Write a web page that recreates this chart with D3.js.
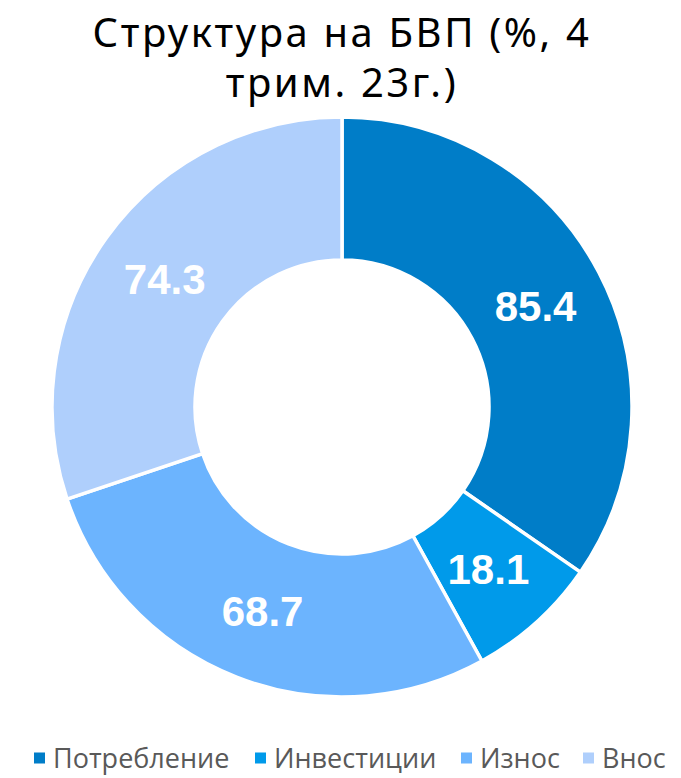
<!DOCTYPE html>
<html><head><meta charset="utf-8">
<script src="https://cdn.jsdelivr.net/npm/d3@7"></script>
<style>body{margin:0;background:#fff;} svg{display:block;}</style>
</head><body>
<script>
const categories = ["Потребление", "Инвестиции", "Износ", "Внос"];
const values = [85.4, 18.1, 68.7, 74.3];
const colors = ["#007DC8", "#009AEA", "#6CB4FE", "#AFCFFC"];
const titleLines = ["Структура на БВП (%, 4", "трим. 23г.)"];

const W = 681, H = 778;
const svg = d3.select("body").append("svg").attr("width", W).attr("height", H);

svg.append("g").selectAll("text").data(titleLines).join("text")
  .attr("x", 342).attr("y", (d,i) => 47 + i*50)
  .attr("text-anchor", "middle")
  .attr("font-family", "'Noto Sans', sans-serif")
  .attr("font-size", 40).attr("letter-spacing", 2.6).attr("fill", "#000")
  .text(d => d);

const cx = 342, cy = 407, R = 290, r0 = 147;
const pie = d3.pie().sort(null).value(d => d.v);
const data = pie(categories.map((c,i) => ({c, v: values[i], col: colors[i]})));
const arc = d3.arc().innerRadius(r0).outerRadius(R);
const g = svg.append("g").attr("transform", `translate(${cx},${cy})`);
g.selectAll("path").data(data).join("path")
  .attr("d", arc).attr("fill", d => d.data.col)
  .attr("stroke", "#fff").attr("stroke-width", 3.5);
g.selectAll("text").data(data).join("text")
  .attr("transform", d => `translate(${arc.centroid(d)})`)
  .attr("text-anchor", "middle").attr("dy", "0.36em")
  .attr("font-family", "'Liberation Sans', Arial, sans-serif")
  .attr("font-weight", "bold").attr("font-size", 42).attr("fill", "#fff")
  .text(d => d.data.v.toFixed(1));

const legX = [34, 255, 461, 583];
const lg = svg.append("g").selectAll("g").data(categories).join("g")
  .attr("transform", (d,i) => `translate(${legX[i]},758)`);
lg.append("rect").attr("x", 0).attr("y", -5.5).attr("width", 11).attr("height", 11)
  .attr("fill", (d,i) => colors[i]);
lg.append("text").attr("x", 19).attr("y", 10)
  .attr("font-family", "'Open Sans', sans-serif").attr("font-size", 27)
  .attr("fill", "#595959").text(d => d);
</script>
</body></html>
